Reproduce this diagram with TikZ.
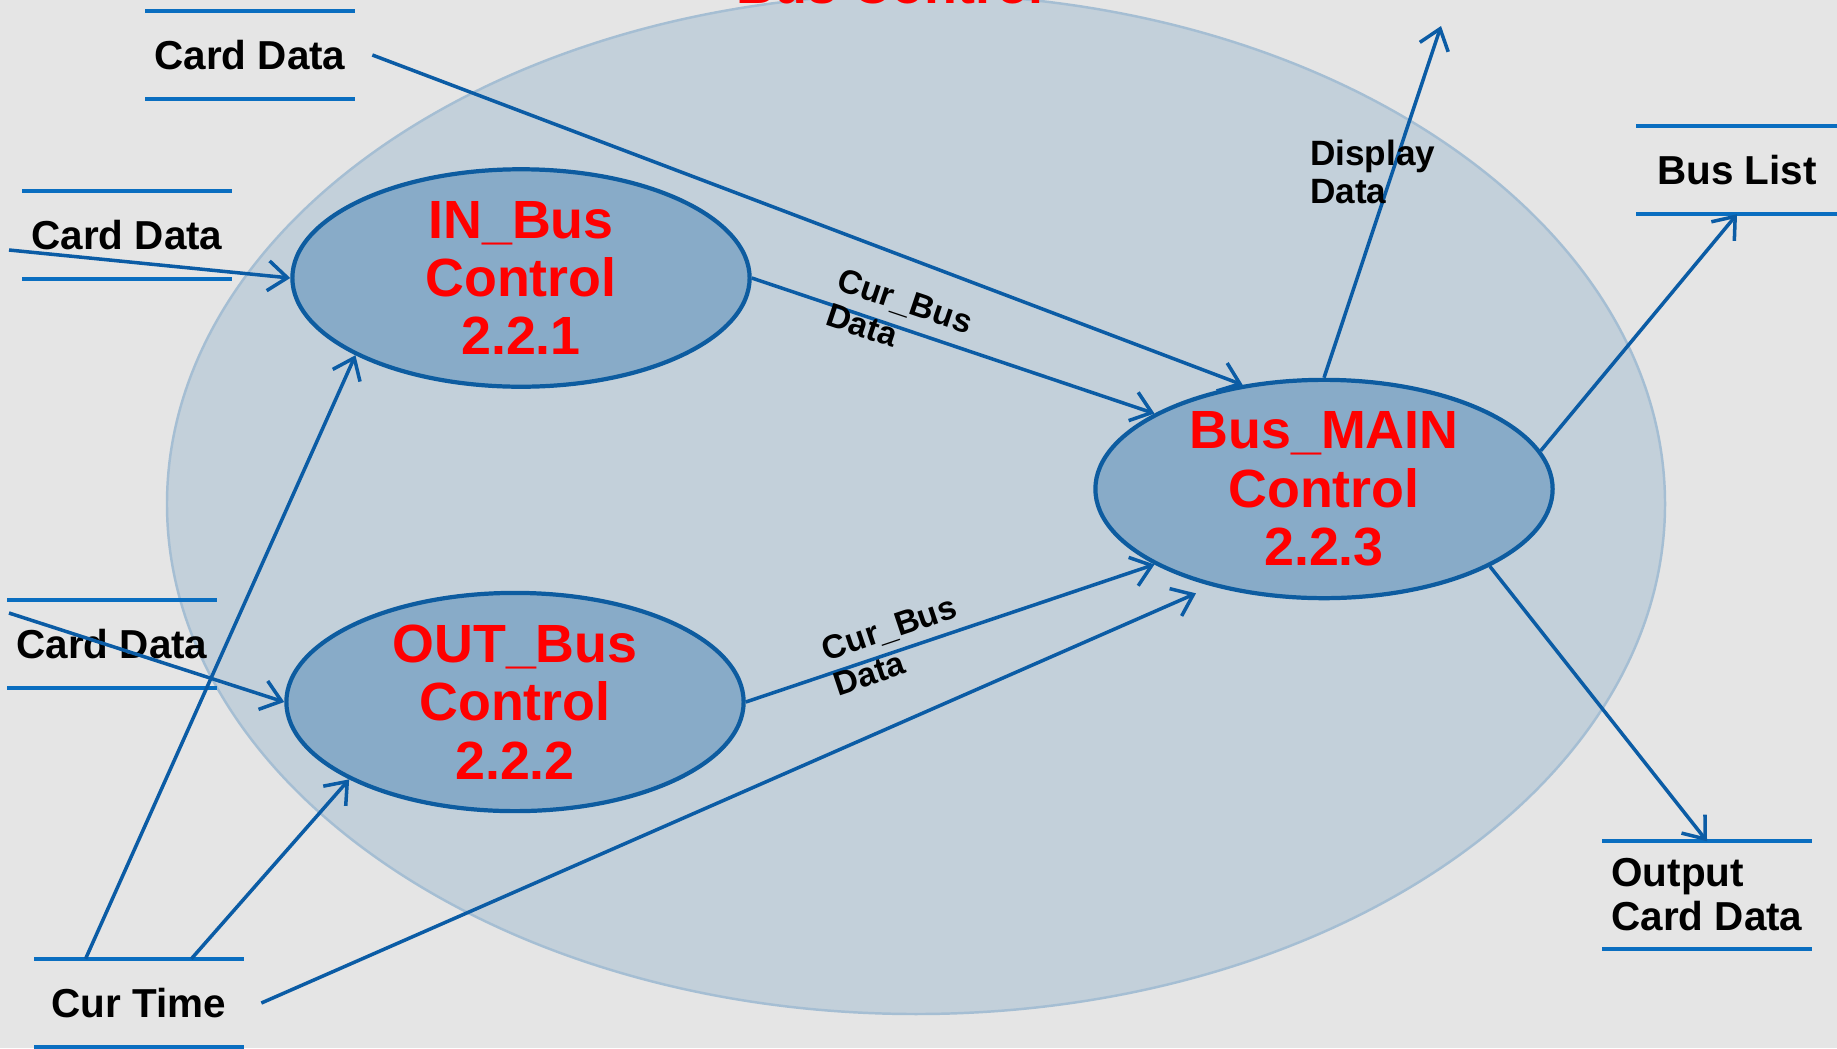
\documentclass[tikz,border=0pt]{standalone}
\usepackage{fontspec}
\setmainfont{Liberation Sans}
\usetikzlibrary{shapes.geometric,calc,arrows.meta}
\definecolor{bgray}{HTML}{E5E5E5}
\definecolor{bigfill}{HTML}{C3D0DA}
\definecolor{bigline}{HTML}{A5BED3}
\definecolor{procfill}{HTML}{88ABC8}
\definecolor{procline}{HTML}{0D5CA0}
\definecolor{flowblue}{HTML}{0B5CA5}
\definecolor{storeblue}{HTML}{0A6EC0}

\begin{document}
\begin{tikzpicture}
[x=0.01cm,y=-0.01cm,>={Straight Barb[length=5.5pt,width=8.5pt]},
proc/.style = {ellipse, draw=procline, line width=1.2pt, fill=procfill, inner sep=0pt, minimum width=4.57cm, minimum height=2.05cm, text=red, align=center, font=\fontsize{15.3}{16.6}\selectfont\bfseries},
store/.style = {rectangle, inner sep=0pt, minimum width=2.08cm, minimum height=0.87cm, align=left, font=\fontsize{11.5}{12.5}\selectfont\bfseries},
storeline/.style = {draw=storeblue, line width=1.15pt},
flow/.style = {->, draw=flowblue, line width=1pt},
lbl/.style = {inner sep=1pt, align=left, font=\fontsize{9.5}{10.5}\selectfont\bfseries},]
\useasboundingbox (0,0) rectangle (1837,1048);
\clip (0,0) rectangle (1837,1048);
\fill[bgray] (0,0) rectangle (1837,1048);
% context bubble
\draw[bigline, fill=bigfill, line width=0.7pt] (916,504) ellipse [x radius=749, y radius=510];
\node[text=red, anchor=base, font=\fontsize{15.3}{16.6}\selectfont\bfseries] (bc) at (890,3) {Bus Control};
% processes
\node[proc] (inb) at (521,278) {IN\_Bus\\Control\\2.2.1};
\node[proc] (outb) at (515,702) {OUT\_Bus\\Control\\2.2.2};
\node[proc] (main) at (1324,489) {Bus\_MAIN\\Control\\2.2.3};
% stores
\node[store] (cd1) at (250,55) {Card Data};
\node[store] (cd2) at (127,235) {Card Data};
\node[store] (cd3) at (112,644) {Card Data};
\node[store] (ct) at (139,1003) {Cur Time};
\node[store, minimum width=2.00cm] (bl) at (1737,170) {Bus List};
\node[store, minimum height=1.06cm] (ocd) at (1707,895) {Output\\Card Data};
\foreach \s in {cd1,cd2,cd3,ct,bl,ocd}
  \draw[storeline] (\s.north west) -- (\s.north east) (\s.south west) -- (\s.south east);
\coordinate (in2) at (9,250);
\coordinate (in3) at (9,613);
\coordinate (disp) at (1441,26);
% flows
\draw[flow] ([xshift=5pt]cd1.east) -- (main.128);
\draw[flow] (in2) -- (inb.west);
\draw[flow] (in3) -- (outb.west);
\draw[flow] ($(ct.north west)!0.245!(ct.north east)$) -- (inb.205);
\draw[flow] ($(ct.north west)!0.75!(ct.north east)$) -- (outb.205);
\draw[flow, shorten >=5pt] ([xshift=5pt]ct.east) -- (main.221);
\draw[flow] (inb.east) -- node[lbl, sloped, pos=0.36, yshift=2.5pt] {Cur\_Bus\\Data} (main.156);
\draw[flow] (outb.east) -- node[lbl, sloped, pos=0.37, yshift=1.7pt] {Cur\_Bus\\Data} (main.204);
\draw[flow] (main.north) -- (disp);
\node[lbl, anchor=west, font=\fontsize{10}{11}\selectfont\bfseries] (dd) at (1306,172) {Display\\Data};
\draw[flow] (main.10) -- (bl.south);
\draw[flow] (main.-25) -- (ocd.north);
\end{tikzpicture}
\end{document}
